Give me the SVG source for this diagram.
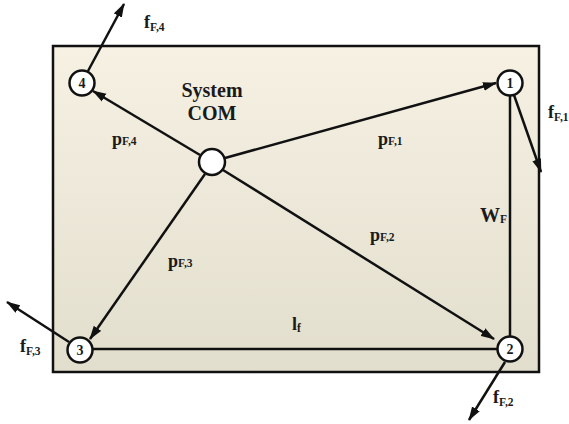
<svg xmlns="http://www.w3.org/2000/svg" width="569" height="424" viewBox="0 0 569 424">
<style>
text{font-family:"Liberation Serif","Times New Roman",serif;font-weight:bold;fill:#1a1a1a}
.lbl{font-size:18px}
.sub{font-size:11.5px}
.num{font-size:14px;text-anchor:middle}
.node{fill:#fff;stroke:#111;stroke-width:2.5}
.ln{stroke:#111;stroke-width:2.5;fill:none}
.arr{stroke:#111;stroke-width:2.5;fill:none;marker-end:url(#ah)}
</style>
<defs>
<linearGradient id="bg" x1="0" y1="0" x2="0" y2="1">
<stop offset="0" stop-color="#f6f1e3"/>
<stop offset="1" stop-color="#e2decd"/>
</linearGradient>
<marker id="ah" markerUnits="userSpaceOnUse" markerWidth="14" markerHeight="10" refX="13" refY="5" orient="auto">
<path d="M0,0.5 L14,5 L0,9.5 Z" fill="#111"/>
</marker>
</defs>
<rect id="frame" x="53" y="46" width="486" height="326" fill="url(#bg)" stroke="#111" stroke-width="2.5"/>
<g id="connectors">
<line class="ln" x1="510" y1="96" x2="510" y2="337"/>
<line class="ln" x1="93" y1="349" x2="497" y2="349"/>
<line class="arr" x1="225" y1="158" x2="496" y2="83"/>
<line class="arr" x1="223" y1="170" x2="494" y2="339"/>
<line class="arr" x1="205" y1="174" x2="90" y2="339"/>
<line class="arr" x1="200" y1="155" x2="93" y2="91"/>
<line class="arr" x1="88" y1="71" x2="124" y2="4"/>
<line class="arr" x1="514" y1="95" x2="541" y2="172"/>
<line class="arr" x1="505" y1="362" x2="469" y2="420"/>
<line class="arr" x1="69" y1="342" x2="7" y2="302"/>
</g>
<g id="com"><circle class="node" cx="212" cy="162" r="13"/></g>
<g id="node1"><circle class="node" cx="510" cy="83" r="12.5"/><text class="num" x="510" y="88">1</text></g>
<g id="node2"><circle class="node" cx="510" cy="349" r="12.5"/><text class="num" x="510" y="354">2</text></g>
<g id="node3"><circle class="node" cx="80" cy="350" r="12.5"/><text class="num" x="80" y="355">3</text></g>
<g id="node4"><circle class="node" cx="82" cy="83" r="12.5"/><text class="num" x="82" y="88">4</text></g>
<g id="labels">
<text x="212" y="97" font-size="20" text-anchor="middle">System</text>
<text x="212" y="120" font-size="20" text-anchor="middle">COM</text>
<text class="lbl" x="144" y="28">f<tspan class="sub" dy="3">F,4</tspan></text>
<text class="lbl" x="548" y="118">f<tspan class="sub" dy="3">F,1</tspan></text>
<text class="lbl" x="493" y="403">f<tspan class="sub" dy="3">F,2</tspan></text>
<text class="lbl" x="20" y="352">f<tspan class="sub" dy="3">F,3</tspan></text>
<text class="lbl" x="112" y="145">p<tspan class="sub" dy="0">F,4</tspan></text>
<text class="lbl" x="378" y="145">p<tspan class="sub" dy="0">F,1</tspan></text>
<text class="lbl" x="370" y="241">p<tspan class="sub" dy="0">F,2</tspan></text>
<text class="lbl" x="168" y="267">p<tspan class="sub" dy="0">F,3</tspan></text>
<text x="480" y="222" font-size="20">W<tspan class="sub" dy="1">F</tspan></text>
<text class="lbl" x="292" y="330">l<tspan class="sub" dy="2">f</tspan></text>
</g>
</svg>
